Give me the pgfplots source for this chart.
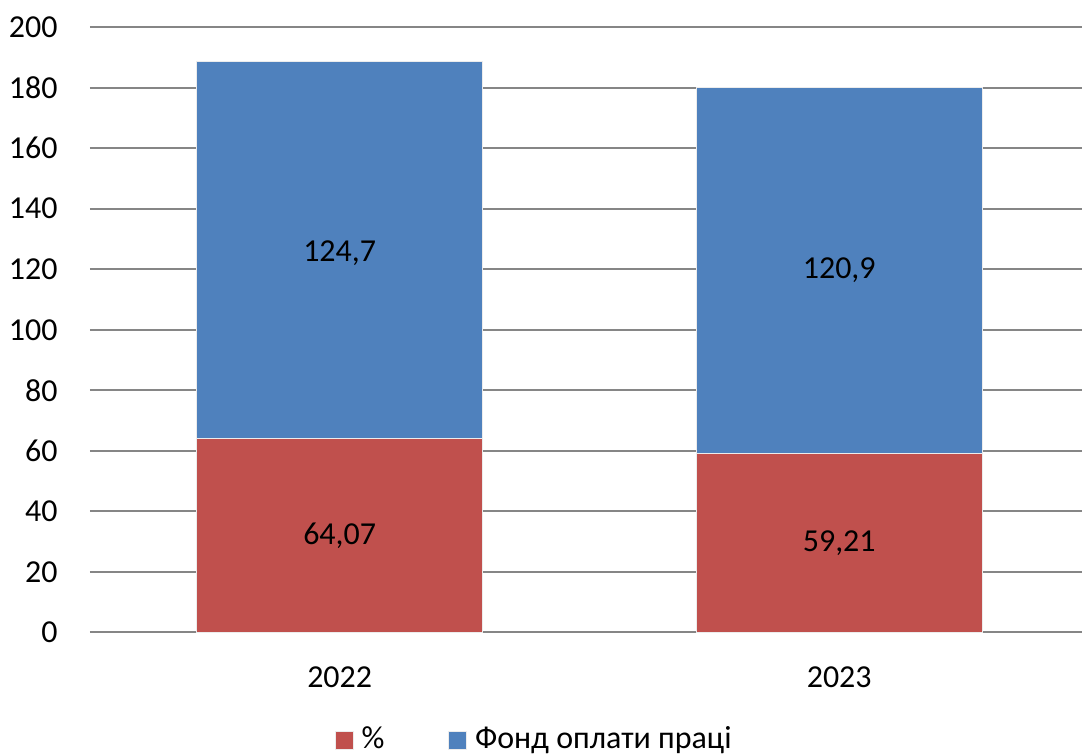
\documentclass[border=0pt]{standalone}
\usepackage{pgfplots}
\pgfplotsset{compat=1.18}
\usepackage{fontspec}
\setmainfont{Carlito}
\definecolor{barred}{HTML}{C0504D}
\definecolor{barblue}{HTML}{4F81BD}
\definecolor{gridgray}{HTML}{868686}

\pgfplotsset{
  common/.style={
    scale only axis,
    width=496.5pt, height=303pt,
    xmin=-0.5, xmax=1.486,
    ymin=0, ymax=200,
    bar width=143pt,
  }
}

\begin{document}
\fontsize{16}{19}\selectfont
\begin{tikzpicture}
\begin{axis}[
  common,
  ybar stacked,
  clip=false,
  axis line style={draw=none},
  major tick length=0pt,
  ymajorgrids,
  grid style={gridgray, line width=1pt},
  ytick={0,20,...,200},
  xtick={0,1},
  xticklabels={2022,2023},
  /pgf/number format/assume math mode=true,
  yticklabel style={anchor=east, inner sep=0pt, xshift=-16pt},
  xticklabel style={anchor=north, inner sep=0pt, yshift=-17pt},
  legend columns=2,
  legend style={
    at={(axis description cs:0.2467,-0.1545)}, anchor=north west,
    draw=none, inner sep=0pt,
    nodes={inner sep=0pt, anchor=west},
    /tikz/every odd column/.append style={column sep=4pt},
    /tikz/every even column/.append style={column sep=32pt},
  },
  legend image code/.code={\fill[#1] (0pt,-4.5pt) rectangle (9pt,4.5pt);},
]
\addplot[fill=barred, draw=white!85!gray, line width=0.3pt] coordinates {(0,64.07) (1,59.21)};
\addlegendentry{\%}
\addplot[fill=barblue, draw=white!85!gray, line width=0.3pt] coordinates {(0,124.7) (1,120.9)};
\addlegendentry{Фонд оплати праці}
\coordinate (bl) at (axis description cs:-0.0906,-0.1997);
\coordinate (tr) at (axis description cs:1,1.0446);
\end{axis}
\begin{axis}[
  common,
  hide axis,
  clip=false,
]
\addplot[only marks, mark=none, nodes near coords, point meta=explicit symbolic,
  nodes near coords align=center,
  every node near coord/.append style={anchor=center, font=\fontsize{16}{19}\selectfont}]
  coordinates {(0,32.035)[64,07] (1,29.605)[59,21] (0,125.4)[124,7] (1,119.66)[120,9]};
\end{axis}
\path (bl) rectangle (tr);
\end{tikzpicture}
\end{document}
